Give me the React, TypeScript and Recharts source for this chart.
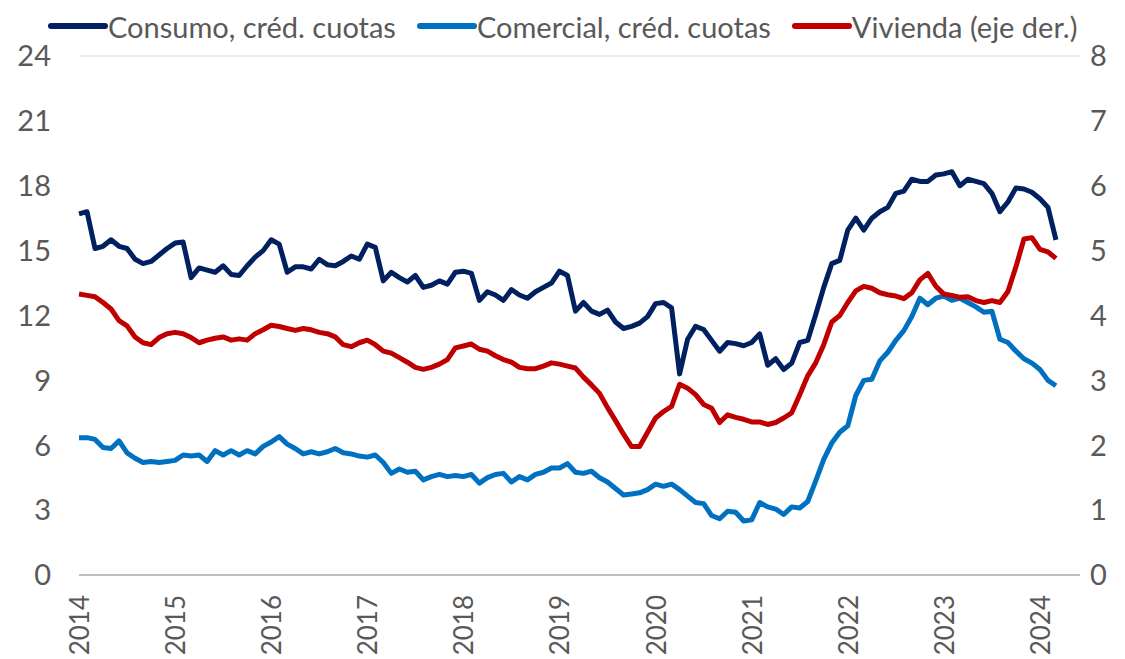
import { LineChart, Line, XAxis, YAxis, CartesianGrid, Legend } from 'recharts';

// monthly series, Jan 2014 .. Mar 2024
const consumo = [
  16.7, 16.8, 15.1, 15.2, 15.5, 15.2, 15.1, 14.6, 14.4, 14.5, 14.8, 15.1,
  15.35, 15.4, 13.75, 14.2, 14.1, 14.0, 14.3, 13.9, 13.85, 14.3, 14.7, 15.0,
  15.5, 15.3, 14.0, 14.25, 14.25, 14.15, 14.6, 14.35, 14.3, 14.5, 14.75, 14.6,
  15.3, 15.15, 13.6, 14.0, 13.75, 13.55, 13.85, 13.3, 13.4, 13.6, 13.45, 14.0,
  14.05, 13.95, 12.7, 13.1, 12.95, 12.7, 13.2, 12.95, 12.8, 13.1, 13.3, 13.5,
  14.05, 13.85, 12.2, 12.6, 12.2, 12.05, 12.25, 11.7, 11.4, 11.5, 11.65, 11.95,
  12.55, 12.6, 12.35, 9.3, 10.9, 11.5, 11.35, 10.85, 10.35, 10.75, 10.7, 10.6,
  10.75, 11.15, 9.7, 10.0, 9.5, 9.8, 10.75, 10.85, 12.05, 13.3, 14.4, 14.55,
  15.95, 16.5, 15.95, 16.5, 16.8, 17.0, 17.65, 17.75, 18.3, 18.2, 18.2, 18.5,
  18.55, 18.65, 18.0, 18.3, 18.2, 18.1, 17.65, 16.8, 17.25, 17.9, 17.85, 17.7,
  17.4, 17.0, 15.5,
];

const comercial = [
  6.35, 6.35, 6.27, 5.9, 5.85, 6.2, 5.65, 5.4, 5.2, 5.25, 5.2, 5.25,
  5.3, 5.55, 5.5, 5.55, 5.25, 5.75, 5.55, 5.75, 5.55, 5.75, 5.6, 5.95,
  6.15, 6.4, 6.05, 5.85, 5.6, 5.7, 5.6, 5.7, 5.85, 5.65, 5.6, 5.5,
  5.45, 5.55, 5.2, 4.7, 4.9, 4.75, 4.8, 4.4, 4.55, 4.65, 4.55, 4.6,
  4.55, 4.65, 4.25, 4.5, 4.65, 4.7, 4.3, 4.55, 4.4, 4.65, 4.75, 4.95,
  4.95, 5.15, 4.75, 4.7, 4.8, 4.5, 4.3, 4.0, 3.7, 3.75, 3.8, 3.95,
  4.2, 4.1, 4.2, 3.95, 3.65, 3.35, 3.3, 2.75, 2.6, 2.95, 2.9, 2.5,
  2.55, 3.35, 3.15, 3.05, 2.8, 3.15, 3.1, 3.4, 4.35, 5.35, 6.1, 6.6,
  6.9, 8.3, 9.0, 9.05, 9.9, 10.3, 10.85, 11.3, 11.95, 12.8, 12.5, 12.8,
  12.9, 12.7, 12.8, 12.6, 12.4, 12.15, 12.2, 10.9, 10.75, 10.35, 10.0, 9.8,
  9.5, 9.0, 8.75,
];

const vivienda = [
  4.33, 4.31, 4.29, 4.2, 4.1, 3.92, 3.84, 3.67, 3.58, 3.55, 3.66, 3.72,
  3.74, 3.72, 3.66, 3.58, 3.62, 3.65, 3.67, 3.62, 3.64, 3.62, 3.72, 3.78,
  3.85, 3.83, 3.8, 3.77, 3.8, 3.78, 3.74, 3.72, 3.67, 3.55, 3.52, 3.58,
  3.62, 3.55, 3.45, 3.42, 3.35, 3.28, 3.2, 3.17, 3.2, 3.25, 3.32, 3.5,
  3.53, 3.56, 3.48, 3.45, 3.38, 3.32, 3.28, 3.2, 3.18, 3.18, 3.22, 3.27,
  3.25, 3.22, 3.19, 3.05, 2.93, 2.8, 2.58, 2.38, 2.17, 1.98, 1.98, 2.2,
  2.42, 2.52, 2.6, 2.94, 2.88, 2.78, 2.63, 2.57, 2.35, 2.47, 2.43, 2.4,
  2.36, 2.36, 2.32, 2.35, 2.42, 2.5, 2.78, 3.07, 3.27, 3.55, 3.9, 4.0,
  4.2, 4.38, 4.45, 4.42, 4.35, 4.32, 4.3, 4.26, 4.35, 4.55, 4.65, 4.45,
  4.33, 4.31, 4.28, 4.29, 4.23, 4.2, 4.23, 4.2, 4.37, 4.75, 5.18, 5.2,
  5.02, 4.98, 4.88,
];

const years = ['2014', '2015', '2016', '2017', '2018', '2019', '2020', '2021', '2022', '2023', '2024'];
const leftTicks = [0, 3, 6, 9, 12, 15, 18, 21, 24];
const rightTicks = [0, 1, 2, 3, 4, 5, 6, 7, 8];

const series = [
  { key: 'consumo', name: 'Consumo, créd. cuotas', color: '#002060', axis: 'left' },
  { key: 'comercial', name: 'Comercial, créd. cuotas', color: '#0070C0', axis: 'left' },
  { key: 'vivienda', name: 'Vivienda (eje der.)', color: '#C00000', axis: 'right' },
];

const data = consumo.map((v, i) => ({
  m: i,
  consumo: v,
  comercial: comercial[i],
  vivienda: vivienda[i],
}));

const FONT = 'Lato, "Open Sans", sans-serif';
const GREY = '#595959';

// rotated year labels under the axis
const YearTick = ({ x, y, payload }: any) => {
  const ty = y + 12;
  return (
    <text
      x={x}
      y={ty}
      transform={`rotate(-90 ${x} ${ty})`}
      textAnchor="end"
      dominantBaseline="central"
      fontSize={26}
      fontFamily={FONT}
      fill={GREY}
    >
      {years[payload.value / 12]}
    </text>
  );
};

const LegendRow = () => (
  <div
    style={{
      display: 'flex',
      alignItems: 'center',
      height: 56,
      paddingLeft: 48,
      paddingBottom: 4,
      boxSizing: 'border-box',
      fontFamily: FONT,
      fontSize: 29,
      color: GREY,
    }}
  >
    {series.map((s) => (
      <div key={s.key} style={{ display: 'flex', alignItems: 'center', marginRight: 21 }}>
        <svg width={60} height={10}>
          <line x1={3} y1={5} x2={57} y2={5} stroke={s.color} strokeWidth={6} strokeLinecap="round" />
        </svg>
        <span style={{ whiteSpace: 'nowrap' }}>{s.name}</span>
      </div>
    ))}
  </div>
);

export default function App() {
  return (
    <div style={{ position: 'absolute', left: 0, top: 0, width: 1125, height: 659, background: '#fff' }}>
      <LineChart width={1125} height={659} data={data} margin={{ top: 0, right: 0, bottom: 0, left: 0 }}>
        <CartesianGrid vertical={false} stroke="#EDEDED" strokeWidth={2} />
        <Legend verticalAlign="top" align="left" wrapperStyle={{ left: 0, top: 0, width: 1125 }} content={<LegendRow />} />
        <XAxis
          dataKey="m"
          type="number"
          domain={[0, 125]}
          ticks={[0, 12, 24, 36, 48, 60, 72, 84, 96, 108, 120]}
          tick={<YearTick />}
          tickLine={false}
          axisLine={{ stroke: '#BFBFBF', strokeWidth: 2 }}
          height={84}
          interval={0}
        />
        <YAxis
          yAxisId="left"
          orientation="left"
          domain={[0, 24]}
          ticks={leftTicks}
          width={79}
          axisLine={false}
          tickLine={false}
          tickSize={0}
          tickMargin={28}
          tick={{ fontSize: 29, fontFamily: FONT, fill: GREY }}
        />
        <YAxis
          yAxisId="right"
          orientation="right"
          domain={[0, 8]}
          ticks={rightTicks}
          width={45}
          axisLine={false}
          tickLine={false}
          tickSize={0}
          tickMargin={10}
          tick={{ fontSize: 29, fontFamily: FONT, fill: GREY, textAnchor: 'start' }}
        />
        {series.map((s) => (
          <Line
            key={s.key}
            yAxisId={s.axis}
            dataKey={s.key}
            name={s.name}
            type="linear"
            stroke={s.color}
            strokeWidth={5}
            strokeLinejoin="round"
            dot={false}
            activeDot={false}
            isAnimationActive={false}
          />
        ))}
      </LineChart>
    </div>
  );
}
